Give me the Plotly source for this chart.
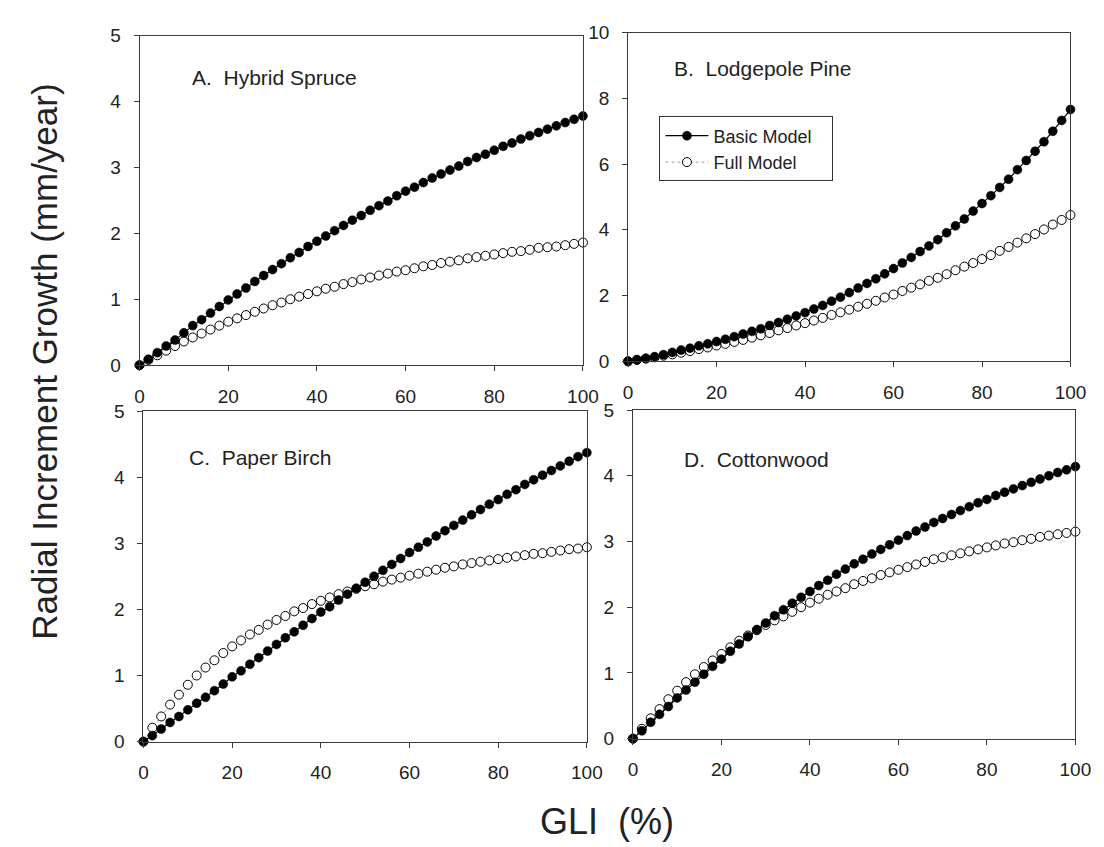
import plotly.graph_objects as go

# GLI (%) values shared by every series
gli = list(range(0, 101, 2))

# A. Hybrid Spruce
spruce_basic = [0, 0.09, 0.19, 0.29, 0.38, 0.49, 0.60, 0.69, 0.79, 0.89, 0.99,
                1.08, 1.17, 1.27, 1.36, 1.45, 1.54, 1.63, 1.71, 1.80, 1.88,
                1.96, 2.04, 2.12, 2.20, 2.27, 2.35, 2.42, 2.49, 2.57, 2.64,
                2.70, 2.77, 2.84, 2.90, 2.96, 3.02, 3.09, 3.15, 3.20, 3.26,
                3.32, 3.37, 3.43, 3.48, 3.53, 3.58, 3.63, 3.68, 3.73, 3.78]
spruce_full = [0, 0.08, 0.15, 0.22, 0.29, 0.36, 0.42, 0.48, 0.54, 0.60, 0.66,
               0.71, 0.76, 0.81, 0.86, 0.91, 0.95, 1.00, 1.04, 1.08, 1.12,
               1.16, 1.19, 1.23, 1.26, 1.30, 1.33, 1.36, 1.39, 1.42, 1.44,
               1.47, 1.50, 1.52, 1.55, 1.57, 1.59, 1.62, 1.64, 1.66, 1.68,
               1.70, 1.72, 1.73, 1.75, 1.78, 1.79, 1.80, 1.82, 1.84, 1.86]

# B. Lodgepole Pine
pine_basic = [0, 0.05, 0.09, 0.14, 0.20, 0.27, 0.34, 0.40, 0.47, 0.53, 0.60,
              0.67, 0.75, 0.83, 0.91, 0.99, 1.09, 1.18, 1.28, 1.38, 1.48,
              1.59, 1.70, 1.83, 1.95, 2.09, 2.23, 2.37, 2.51, 2.66, 2.82,
              2.99, 3.16, 3.34, 3.51, 3.70, 3.91, 4.12, 4.33, 4.57, 4.80,
              5.04, 5.29, 5.54, 5.83, 6.11, 6.39, 6.68, 7.00, 7.33, 7.66]
pine_full = [0, 0.04, 0.08, 0.12, 0.17, 0.21, 0.26, 0.31, 0.37, 0.42, 0.48,
             0.53, 0.59, 0.65, 0.72, 0.79, 0.86, 0.94, 1.01, 1.09, 1.16,
             1.24, 1.32, 1.41, 1.49, 1.57, 1.66, 1.75, 1.84, 1.94, 2.03,
             2.14, 2.24, 2.34, 2.45, 2.54, 2.65, 2.77, 2.88, 2.99, 3.11,
             3.23, 3.36, 3.48, 3.61, 3.74, 3.87, 4.01, 4.16, 4.30, 4.45]

# C. Paper Birch
birch_basic = [0, 0.09, 0.19, 0.29, 0.38, 0.48, 0.58, 0.67, 0.77, 0.87, 0.98,
               1.07, 1.17, 1.27, 1.37, 1.47, 1.57, 1.66, 1.76, 1.86, 1.96,
               2.04, 2.14, 2.23, 2.32, 2.41, 2.50, 2.59, 2.68, 2.77, 2.86,
               2.94, 3.02, 3.11, 3.19, 3.27, 3.35, 3.43, 3.51, 3.59, 3.66,
               3.74, 3.81, 3.89, 3.96, 4.03, 4.10, 4.17, 4.24, 4.31, 4.37]
birch_full = [0, 0.21, 0.38, 0.56, 0.71, 0.86, 1.00, 1.12, 1.23, 1.34, 1.44,
              1.53, 1.62, 1.69, 1.77, 1.84, 1.90, 1.97, 2.02, 2.08, 2.13,
              2.18, 2.23, 2.27, 2.31, 2.35, 2.38, 2.42, 2.45, 2.48, 2.51,
              2.54, 2.57, 2.60, 2.63, 2.65, 2.68, 2.70, 2.72, 2.74, 2.76,
              2.78, 2.80, 2.82, 2.84, 2.85, 2.87, 2.89, 2.91, 2.92, 2.94]

# D. Cottonwood
cotton_basic = [0, 0.12, 0.25, 0.37, 0.49, 0.62, 0.74, 0.86, 0.98, 1.10, 1.21,
                1.33, 1.44, 1.55, 1.66, 1.76, 1.87, 1.96, 2.06, 2.15, 2.24,
                2.33, 2.41, 2.50, 2.58, 2.66, 2.73, 2.81, 2.88, 2.95, 3.02,
                3.09, 3.16, 3.22, 3.29, 3.35, 3.41, 3.47, 3.53, 3.59, 3.64,
                3.70, 3.75, 3.80, 3.85, 3.90, 3.95, 4.00, 4.05, 4.09, 4.14]
cotton_full = [0, 0.15, 0.31, 0.45, 0.60, 0.73, 0.86, 0.98, 1.09, 1.19, 1.29,
               1.39, 1.49, 1.57, 1.65, 1.73, 1.80, 1.86, 1.93, 2.00, 2.07,
               2.13, 2.19, 2.24, 2.29, 2.35, 2.40, 2.44, 2.49, 2.53, 2.57,
               2.61, 2.65, 2.69, 2.73, 2.76, 2.79, 2.82, 2.85, 2.88, 2.91,
               2.94, 2.97, 2.99, 3.02, 3.04, 3.07, 3.09, 3.11, 3.13, 3.15]

panel_titles = ["A.\u00a0 Hybrid Spruce", "B.\u00a0 Lodgepole Pine",
                "C.\u00a0 Paper Birch", "D.\u00a0 Cottonwood"]
y_max = [5, 10, 5, 5]
y_step = [1, 2, 1, 1]
x_ticks = [0, 20, 40, 60, 80, 100]
series_names = ["Basic Model", "Full Model"]

W, H = 1104, 847
# panel boxes in pixels: (left, right, top, bottom)
boxes = [(129, 581, 18, 356), (627, 1078, 15, 352),
         (133, 585, 403, 742), (632, 1083, 402, 739)]
title_pos = [(180, 61), (672, 52), (177, 451), (682, 453)]

data = [(spruce_basic, spruce_full), (pine_basic, pine_full),
        (birch_basic, birch_full), (cotton_basic, cotton_full)]

FONT = "Liberation Sans, Arial, sans-serif"
PAD = "\u00a0\u00a0\u00a0"
fig = go.Figure()
layout = {}
annotations = []
for i, ((basic, full), box) in enumerate(zip(data, boxes)):
    n = "" if i == 0 else str(i + 1)
    xa, ya = "x" + n, "y" + n
    l, r, t, b = box
    fig.add_trace(go.Scatter(
        x=gli, y=full, xaxis=xa, yaxis=ya, mode="lines+markers",
        name=series_names[1] + PAD, showlegend=(i == 1), legendrank=2,
        line=dict(color="#a0a0a0", width=1, dash="dot"),
        marker=dict(symbol="circle", size=9, color="white",
                    line=dict(color="black", width=1)),
        cliponaxis=False))
    fig.add_trace(go.Scatter(
        x=gli, y=basic, xaxis=xa, yaxis=ya, mode="lines+markers",
        name=series_names[0] + PAD, showlegend=(i == 1), legendrank=1,
        line=dict(color="black", width=1.2),
        marker=dict(symbol="circle", size=9, color="black",
                    line=dict(color="black", width=0.5)),
        cliponaxis=False))
    axis_common = dict(showgrid=False, zeroline=False, showline=True,
                       linecolor="#3a3a3a", linewidth=1, mirror=True,
                       ticks="outside", ticklen=5, tickcolor="#3a3a3a",
                       ticklabelstandoff=9,
                       tickfont=dict(family=FONT, size=19, color="#222"))
    layout["xaxis" + n] = dict(axis_common, domain=[l / W, r / W],
                               range=[0, 100], tickvals=x_ticks,
                               anchor=ya)
    layout["yaxis" + n] = dict(axis_common, domain=[1 - b / H, 1 - t / H],
                               range=[0, y_max[i]], dtick=y_step[i], tick0=0,
                               anchor=xa)
    tx, ty = title_pos[i]
    annotations.append(dict(text=panel_titles[i], x=tx / W, y=1 - ty / H,
                            xref="paper", yref="paper", xanchor="left",
                            yanchor="middle", showarrow=False,
                            font=dict(family=FONT, size=21, color="#222")))

annotations.append(dict(text="GLI\u00a0 (%)", x=606 / W, y=1 - 824 / H,
                        xref="paper", yref="paper", xanchor="center",
                        yanchor="middle", showarrow=False,
                        font=dict(family=FONT, size=36, color="#222")))
annotations.append(dict(text="Radial Increment Growth (mm/year)", x=32 / W,
                        y=1 - 352 / H, xref="paper", yref="paper",
                        xanchor="center", yanchor="middle", textangle=-90,
                        showarrow=False,
                        font=dict(family=FONT, size=35, color="#222")))

fig.update_layout(
    **layout,
    annotations=annotations,
    width=W, height=H,
    margin=dict(l=0, r=0, t=0, b=0),
    paper_bgcolor="white", plot_bgcolor="white",
    showlegend=True,
    legend=dict(x=659 / W, y=1 - 101 / H, xanchor="left", yanchor="top",
                bgcolor="white", bordercolor="#333", borderwidth=1,
                font=dict(family=FONT, size=18, color="#222"),
                traceorder="normal", itemwidth=43, tracegroupgap=0),
)

fig.write_html("out.html")
